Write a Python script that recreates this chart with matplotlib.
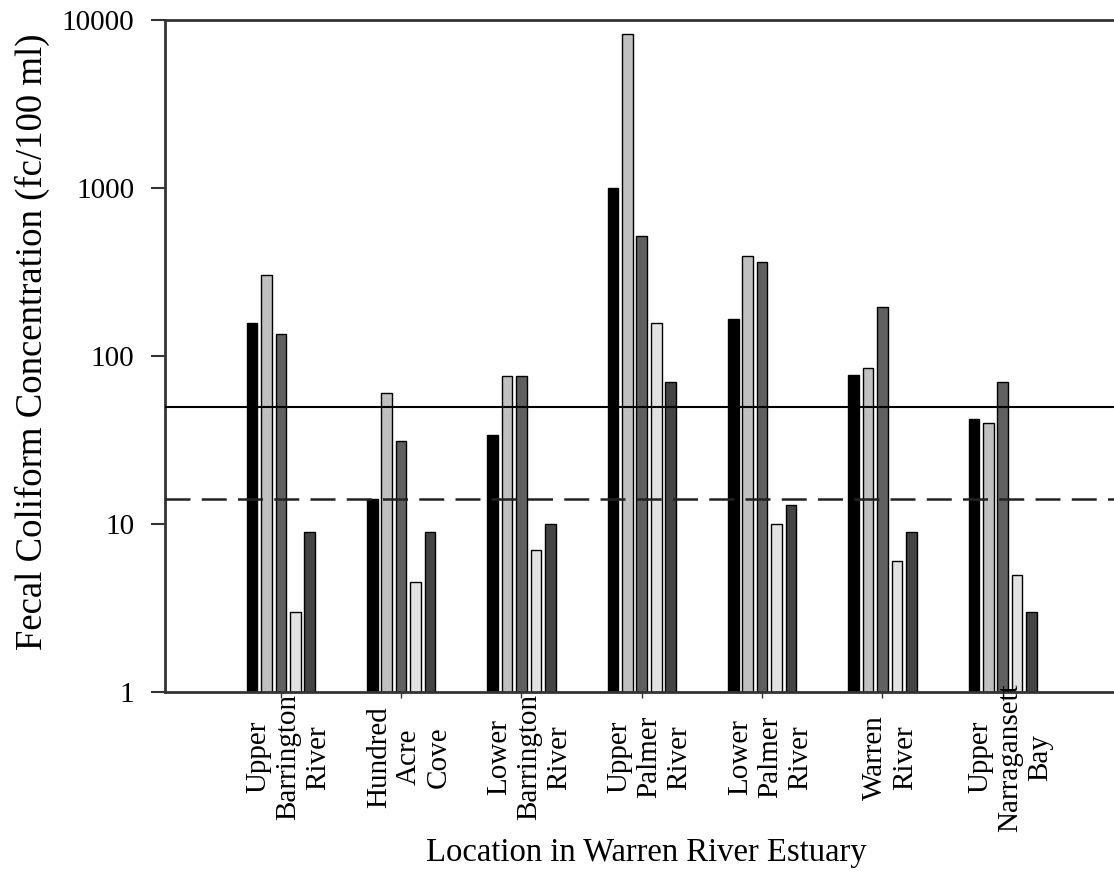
import numpy as np
import matplotlib
matplotlib.use("Agg")
import matplotlib.pyplot as plt
from matplotlib.transforms import blended_transform_factory

plt.rcParams['font.family'] = ['Liberation Serif', 'DejaVu Serif']

locations = ["Upper\nBarrington\nRiver", "Hundred\nAcre\nCove",
             "Lower\nBarrington\nRiver", "Upper\nPalmer\nRiver",
             "Lower\nPalmer\nRiver", "Warren\nRiver",
             "Upper\nNarragansett\nBay"]

# five sampling series per location (fc/100 ml)
series_1 = [157, 14, 34, 1000, 165, 77, 42]
series_2 = [303, 60, 76, 8300, 395, 85, 40]
series_3 = [135, 31, 76, 515, 365, 197, 70]
series_4 = [3, 4.5, 7, 158, 10, 6, 5]
series_5 = [9, 9, 10, 70, 13, 9, 3]

standard_solid = 50
standard_dashed = 14

colors = ["#000000", "#c0c0c0", "#606060", "#e2e2e2", "#444444"]

fig = plt.figure(figsize=(11.14, 8.91), dpi=100)
ax = fig.add_axes([0.1481, 0.2233, 0.8519, 0.7543])
ax.set_yscale("log")

x = np.arange(len(locations))
pitch = 0.12
width = 0.088
for k, (vals, c) in enumerate(zip([series_1, series_2, series_3, series_4, series_5], colors)):
    ax.bar(x + (k - 2) * pitch, vals, width=width, color=c,
           edgecolor="black", linewidth=1.0, zorder=2)

ax.axhline(standard_solid, color="black", linewidth=1.5, zorder=3)
ax.axhline(standard_dashed, color="#222222", linewidth=1.8,
           linestyle=(0, (10, 4.5)), zorder=3)

ax.set_ylim(1, 10000)
ax.set_xlim(-0.963, 6.925)
ax.set_yticks([1, 10, 100, 1000, 10000])
ax.set_yticklabels(["1", "10", "100", "1000", "10000"])
ax.yaxis.set_minor_locator(matplotlib.ticker.NullLocator())
ax.tick_params(axis="y", direction="out", length=10, width=1.5,
               labelsize=21, pad=12, color="#333333")
ax.set_xticks(x)
ax.set_xticklabels([])
ax.tick_params(axis="x", direction="out", length=4, width=1, color="#333333")

for side in ["left", "bottom", "top"]:
    ax.spines[side].set_linewidth(2)
    ax.spines[side].set_color("#333333")
ax.spines["right"].set_visible(False)

# location names as rotated multi-line labels under each group
trans = blended_transform_factory(ax.transData, ax.transAxes)
for xi, name in zip(x, locations):
    ax.text(xi + 0.065, -0.097, name, transform=trans, rotation=90,
            ha="center", va="center", multialignment="center",
            fontsize=21, linespacing=1.2)

fig.text(0.58, 0.0426, "Location in Warren River Estuary",
         ha="center", va="center", fontsize=23.5)
fig.text(0.029, 0.616, "Fecal Coliform Concentration (fc/100 ml)",
         ha="center", va="center", rotation=90, fontsize=26.5)

fig.savefig("out.png", dpi=100)
